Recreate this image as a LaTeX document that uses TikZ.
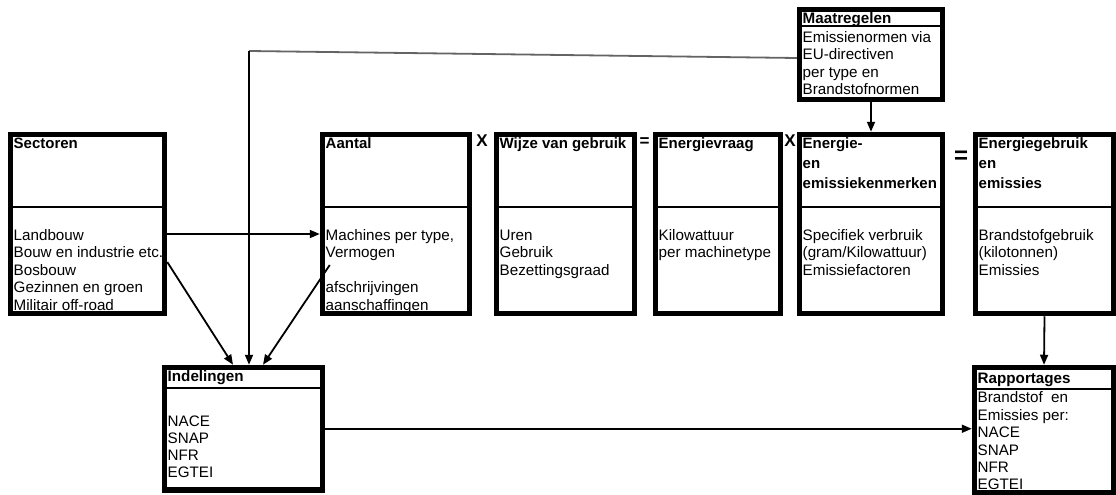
\documentclass[tikz,border=0pt]{standalone}
\usepackage{fontspec}
\setmainfont{Liberation Sans}
\usetikzlibrary{arrows.meta}

\definecolor{linegray}{RGB}{100,100,100}

\tikzset{
	box/.style={draw, line width=5.5pt, inner sep=0pt},
	txt/.style={anchor=north west, inner sep=0pt, align=left, font=\fontsize{15.2}{17.5}\selectfont},
	ttl/.style={anchor=north west, inner sep=0pt, align=left, font=\fontsize{15}{20}\selectfont\bfseries},
	divider/.style={line width=1.5pt},
	conn/.style={line width=1.8pt, -{Triangle[length=10pt,width=8pt]}},
	op/.style={inner sep=0pt, font=\fontsize{17}{17}\selectfont\bfseries},
}

\begin{document}
\begin{tikzpicture}[x=1pt,y=1pt,yscale=-1]
	\useasboundingbox (0,0) rectangle (1116,495);
	\def\top{134}
	\def\body{227.75}
	\def\split{207}

	%sectoren
	% Text Node
	\node[ttl] (sectT) at (13.5,\top) {\strut Sectoren};
	% Text Node
	\node[txt] (sectB) at (13.5,\body) {\strut Landbouw\\Bouw en industrie etc.\\Bosbouw\\Gezinnen en groen\\Militair off-road};
	%Shape: Rectangle
	\node[box, minimum width=154, minimum height=179] (sect) at (87.5,224) {};
	\draw[divider] (sect.west |- 0,\split) -- (sect.east |- 0,\split);

	%aantal
	\node[ttl] (aantalT) at (325.5,\top) {\strut Aantal};
	\node[txt] (aantalB) at (325.5,\body) {\strut Machines per type,\\Vermogen\\[17.5pt]afschrijvingen\\aanschaffingen};
	\node[box, minimum width=147, minimum height=179] (aantal) at (396,224) {};
	\draw[divider] (aantal.west |- 0,\split) -- (aantal.east |- 0,\split);

	%wijze van gebruik
	\node[ttl] (wijzeT) at (499.5,\top) {\strut Wijze van gebruik};
	\node[txt] (wijzeB) at (499.5,\body) {\strut Uren\\Gebruik\\Bezettingsgraad};
	\node[box, minimum width=138, minimum height=179] (wijze) at (565.5,224) {};
	\draw[divider] (wijze.west |- 0,\split) -- (wijze.east |- 0,\split);

	%energievraag
	\node[ttl] (evT) at (658.5,\top) {\strut Energievraag};
	\node[txt] (evB) at (658.5,\body) {\strut Kilowattuur\\per machinetype};
	\node[box, minimum width=125, minimum height=179] (ev) at (718,224) {};
	\draw[divider] (ev.west |- 0,\split) -- (ev.east |- 0,\split);

	%energie- en emissiekenmerken
	\node[ttl] (ekT) at (802.5,\top) {\strut Energie-\\en\\emissiekenmerken};
	\node[txt] (ekB) at (802.5,\body) {\strut Specifiek verbruik\\(gram/Kilowattuur)\\Emissiefactoren};
	\node[box, minimum width=143, minimum height=179] (ek) at (871,224) {};
	\draw[divider] (ek.west |- 0,\split) -- (ek.east |- 0,\split);

	%energiegebruik en emissies
	\node[ttl] (egT) at (978.5,\top) {\strut Energiegebruik\\en\\emissies};
	\node[txt] (egB) at (978.5,\body) {\strut Brandstofgebruik\\(kilotonnen)\\Emissies};
	\node[box, minimum width=138, minimum height=179] (eg) at (1044.5,224) {};
	\draw[divider] (eg.west |- 0,\split) -- (eg.east |- 0,\split);

	% operators
	\node[op] (x1) at (482,141) {X};
	\node[op] (is1) at (644.5,142) {=};
	\node[op] (x2) at (790,141) {X};
	\node[op, font=\fontsize{24}{24}\selectfont\bfseries] (is2) at (961,157) {=};

	%maatregelen
	\node[txt] (maatT) at (802.5,10.75) {\strut\textbf{Maatregelen}};
	\node[txt] (maatB) at (802.5,29.75) {\strut Emissienormen via\\EU-directiven\\per type en\\Brandstofnormen};
	\node[box, minimum width=143, minimum height=90] (maat) at (871,54.5) {};
	\draw[divider] (maat.west |- 0,26) -- (maat.east |- 0,26);

	%indelingen
	\node[txt] (indelT) at (167.5,368.75) {\strut\textbf{Indelingen}};
	\node[txt, font=\fontsize{15.2}{17}\selectfont] (indelB) at (167.5,414.1) {\strut NACE\\SNAP\\NFR\\EGTEI};
	\node[box, minimum width=158, minimum height=122.5] (indel) at (243.5,428.75) {};
	\draw[divider] (indel.west |- 0,388) -- (indel.east |- 0,388);

	%rapportages
	\node[box, minimum width=139, minimum height=125.5] (rapp) at (1044,430.25) {};
	\node[txt] (rappT) at (977.5,370.75) {\strut\textbf{Rapportages}};
	\node[txt, font=\fontsize{15.2}{17.4}\selectfont] (rappB) at (977.5,390.5) {\strut Brandstof\ \ en\\Emissies per:\\NACE\\SNAP\\NFR\\EGTEI};
	\draw[divider] (rapp.west |- 0,389) -- (rapp.east |- 0,389);

	% arrows
	\coordinate (sectR) at (sect.east |- 0,234);
	\draw[conn] (sectR) -- (aantal.west |- sectR);
	\coordinate (sectD) at (sect.east |- 0,262);
	\draw[conn] (sectD) -- ([xshift=-10.5pt]indel.north);
	\coordinate (aantalD) at ([xshift=10pt]aantal.west |- 0,265);
	\draw[conn] (aantalD) -- ([xshift=19.5pt]indel.north);
	\coordinate (bend) at ([xshift=5.5pt]indel.north |- 0,51);
	\draw[line width=1.8pt, linegray] ([yshift=3.5pt]maat.west) -- (bend);
	\draw[conn] (bend) -- ([xshift=5.5pt]indel.north);
	\draw[conn] (maat.south) -- (ek.north);
	\draw[conn] (eg.south) -- (rapp.north);
	\draw[conn] (indel.east) -- (rapp.west |- indel.east);
\end{tikzpicture}
\end{document}
